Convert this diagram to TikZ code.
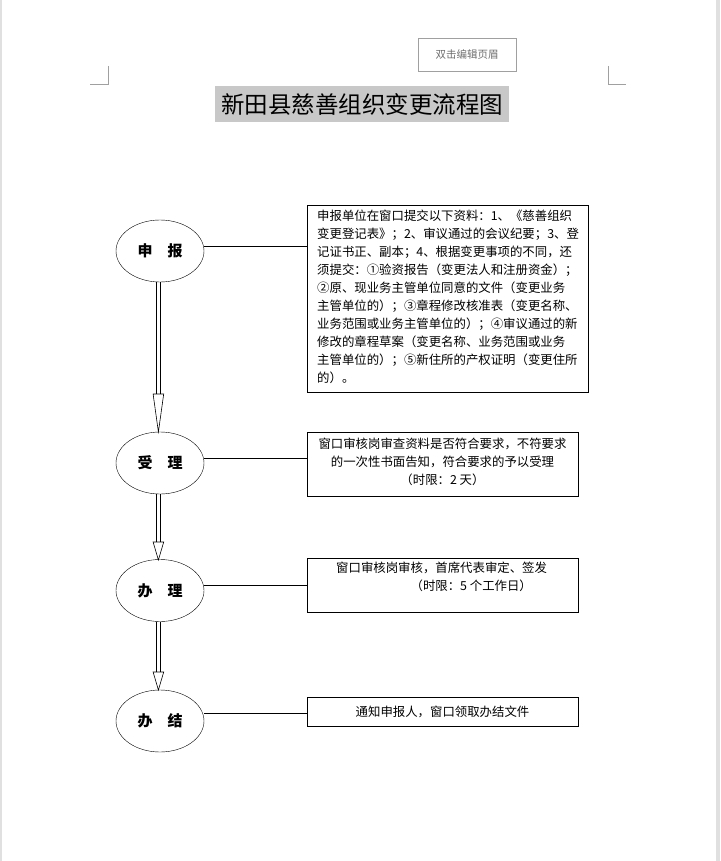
\documentclass[tikz,border=0pt]{standalone}
\usepackage{fontspec}
\setmainfont{Liberation Serif}
\newfontfamily\cjk{Noto Sans CJK SC}
\usetikzlibrary{shapes.geometric}
\definecolor{titlebg}{HTML}{C8C8C8}
\definecolor{hdrgray}{HTML}{A0A0A0}
\definecolor{hdrtext}{HTML}{6E6E6E}
\definecolor{pagegray}{HTML}{E0E0E0}
\begin{document}
\begin{tikzpicture}[x=1pt,y=-1pt,
  stage/.style={draw, ellipse, minimum width=88pt, minimum height=62pt, inner sep=0pt, font=\cjk\fontsize{15}{15}\selectfont\bfseries},
  infobox/.style={draw, rectangle, anchor=north west, inner sep=0pt},
  boxtext/.style={font=\cjk\fontsize{12.4}{18}\selectfont},
  link/.style={draw, line width=0.7pt},
  shaft/.style={line width=0.6pt},
  head/.style={line width=0.6pt, fill=white}
]
\useasboundingbox (0,0) rectangle (720,861);
\fill[pagegray] (0,0) rectangle (2,861);
\fill[pagegray] (716,0) rectangle (720,861);

% header box
\node[draw=hdrgray, line width=0.7pt, minimum width=98pt, minimum height=33pt, inner sep=0pt, text=hdrtext, font=\cjk\fontsize{10.5}{12}\selectfont] (hdr) at (467,54.5) {双击编辑页眉};

% corner marks
\draw[hdrgray, line width=0.6pt] (108,66) -- (108,84) -- (90,84);
\draw[hdrgray, line width=0.6pt] (608,66) -- (608,84) -- (626,84);

% title
\node[fill=titlebg, minimum width=294pt, minimum height=36pt, inner sep=0pt, font=\cjk\fontsize{23.5}{24}\selectfont] (title) at (362,104) {新田县慈善组织变更流程图};

% stages
\node[stage] (s1) at (160,251) {申\hspace{1em}报};
\node[stage] (s2) at (160,463) {受\hspace{1em}理};
\node[stage] (s3) at (160,590.5) {办\hspace{1em}理};
\node[stage] (s4) at (160,721) {办\hspace{1em}结};

% boxes
\node[infobox, minimum width=281pt, minimum height=187pt] (b1) at (307,205) {};
\node[infobox, minimum width=271pt, minimum height=64pt] (b2) at (307,432) {};
\node[infobox, minimum width=271pt, minimum height=54pt] (b3) at (307,558) {};
\node[infobox, minimum width=271pt, minimum height=29pt] (b4) at (307,697) {};

% box texts
\node[boxtext, anchor=north west, inner sep=0pt, align=left] (t1) at (317,210) {%
申报单位在窗口提交以下资料：1、《慈善组织\\
变更登记表》；2、审议通过的会议纪要；3、登\\
记证书正、副本；4、根据变更事项的不同，还\\
须提交：①验资报告（变更法人和注册资金）；\\
②原、现业务主管单位同意的文件（变更业务\\
主管单位的）；③章程修改核准表（变更名称、\\
业务范围或业务主管单位的）；④审议通过的新\\
修改的章程草案（变更名称、业务范围或业务\\
主管单位的）；⑤新住所的产权证明（变更住所\\
的）。};
\node[boxtext, align=center, inner sep=0pt] (t2) at (442.5,462) {%
窗口审核岗审查资料是否符合要求，不符要求\\
的一次性书面告知，符合要求的予以受理\\
（时限：2 天）};
\node[boxtext, anchor=north west, align=left, inner sep=0pt] (t3) at (336,562) {%
窗口审核岗审核，首席代表审定、签发\\
\hspace{6em}（时限：5 个工作日）};
\node[boxtext, inner sep=0pt] (t4) at (442.5,712) {通知申报人，窗口领取办结文件};

% connectors stage -> box
\draw[link] (s1.east |- 0,246) -- (b1.west |- 0,246);
\draw[link] (s2.east |- 0,458) -- (b2.west |- 0,458);
\draw[link] (s3.east |- 0,585) -- (b3.west |- 0,585);
\draw[link] (s4.east |- 0,713) -- (b4.west |- 0,713);

% double arrows
\coordinate (a1s) at (158.4,282);
\coordinate (a1h) at (158.4,394);
\coordinate (a1t) at (158.4,432);
\coordinate (a2s) at (158.4,494);
\coordinate (a2h) at (158.4,542);
\coordinate (a2t) at (158.4,560);
\coordinate (a3s) at (158.4,621.5);
\coordinate (a3h) at (158.4,672);
\coordinate (a3t) at (158.4,690);
\foreach \s/\h/\t in {a1s/a1h/a1t, a2s/a2h/a2t, a3s/a3h/a3t}{
  \draw[shaft] ([xshift=-2.2pt]\s) -- ([xshift=-2.2pt]\h);
  \draw[shaft] ([xshift=2.2pt]\s) -- ([xshift=2.2pt]\h);
  \draw[head] ([xshift=-5.3pt]\h) -- (\t) -- ([xshift=5.3pt]\h) -- cycle;
}
\end{tikzpicture}
\end{document}
